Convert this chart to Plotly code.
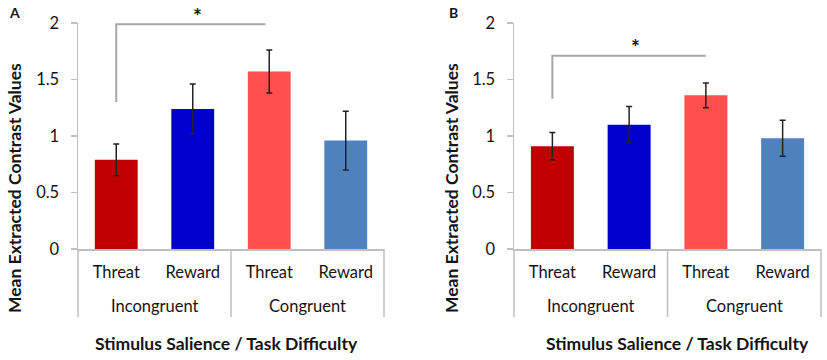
import plotly.graph_objects as go

# ---- data ----
conditions = ["Threat", "Reward", "Threat", "Reward"]
groups = ["Incongruent", "Congruent"]
group_centers = [0.5, 2.5]
bar_colors = ["#C00000", "#0000CC", "#FF4F4F", "#4F81BD"]

values_a = [0.79, 1.24, 1.57, 0.96]
errors_a = [0.14, 0.22, 0.19, 0.26]
values_b = [0.91, 1.10, 1.36, 0.98]
errors_b = [0.12, 0.16, 0.11, 0.16]

bracket_a_x = [0, 0, 1.95]
bracket_a_y = [1.30, 1.99, 1.99]
star_a = (1.06, 2.07)
bracket_b_x = [0, 0, 2.0]
bracket_b_y = [1.33, 1.71, 1.71]
star_b = (1.08, 1.79)

y_ticks = [0, 0.5, 1, 1.5, 2]
y_ticktext = ["0", "0.5", "1", "1.5", "2"]

W, H = 827, 360
FONT = "Lato"
TXT = "#141414"
GRID = "#bfbfbf"
BRK = "#a6a6a6"
Y0_PX, Y1_PX = 249, 23          # pixel rows of y=0 and y=2

x_pos = list(range(len(conditions)))

fig = go.Figure()

panels = [
    ("x", "y", values_a, errors_a, bracket_a_x, bracket_a_y),
    ("x2", "y2", values_b, errors_b, bracket_b_x, bracket_b_y),
]

for xa, ya, vals, errs, bx, by in panels:
    fig.add_trace(go.Bar(
        x=x_pos, y=vals, xaxis=xa, yaxis=ya,
        marker=dict(color=bar_colors, line=dict(width=0)),
        width=0.56,
        error_y=dict(type="data", array=errs, visible=True,
                     color="#222222", thickness=1.5, width=3),
        showlegend=False, hoverinfo="skip",
    ))
    fig.add_trace(go.Scatter(
        x=bx, y=by, xaxis=xa, yaxis=ya, mode="lines",
        line=dict(color=BRK, width=2), showlegend=False, hoverinfo="skip",
        cliponaxis=False,
    ))

dom_a = [78 / W, 384 / W]
dom_b = [514 / W, 821 / W]
ydom = [(H - Y0_PX) / H, (H - Y1_PX) / H]

axis_common_x = dict(
    range=[-0.5, 3.5], tickvals=x_pos, ticktext=conditions,
    showline=True, linecolor=GRID, linewidth=1.5, ticks="",
    tickfont=dict(family=FONT, size=16.5, color=TXT), showgrid=False,
    zeroline=False, ticklabelstandoff=8, fixedrange=True, automargin=False,
)
axis_common_y = dict(
    range=[0, 2], tickvals=y_ticks, ticktext=y_ticktext,
    showline=True, linecolor=GRID, linewidth=1.5, ticks="outside",
    ticklen=6, tickcolor=GRID, tickwidth=1.5,
    tickfont=dict(family=FONT, size=16.5, color=TXT), showgrid=False,
    zeroline=False, ticklabelstandoff=8, fixedrange=True, automargin=False,
)

fig.update_layout(
    width=W, height=H,
    margin=dict(l=0, r=0, t=0, b=0, pad=0, autoexpand=False),
    plot_bgcolor="white", paper_bgcolor="white",
    xaxis=dict(domain=dom_a, anchor="y", **axis_common_x),
    yaxis=dict(domain=ydom, anchor="x", **axis_common_y),
    xaxis2=dict(domain=dom_b, anchor="y2", **axis_common_x),
    yaxis2=dict(domain=ydom, anchor="x2", **axis_common_y),
    bargap=0.44,
)


def y_to_paper(v):
    # paper coordinate of a data value on the shared y scale (range 0..2)
    return ydom[0] + (ydom[1] - ydom[0]) * v / 2.0


annotations = []
shapes = []
for xa, ya, st, ytx, xtx, letter_x, letter in [
    ("x", "y", star_a, 15, 226, 14, "A"),
    ("x2", "y2", star_b, 452, 677, 453, "B"),
]:
    for g, c in zip(groups, group_centers):
        annotations.append(dict(
            x=c, xref=xa, y=(H - 306) / H, yref="paper", text=g,
            showarrow=False, font=dict(family=FONT, size=16.5, color=TXT),
            xanchor="center", yanchor="middle"))
    for d in [0, 0.5, 1]:
        shapes.append(dict(
            type="line", xref=f"{xa} domain", yref="paper",
            x0=d, x1=d, y0=(H - 317) / H, y1=ydom[0],
            line=dict(color=GRID, width=1.5)))
    annotations.append(dict(
        x=st[0], xref=xa, y=y_to_paper(st[1]), yref="paper", text="<b>*</b>",
        showarrow=False, font=dict(family=FONT, size=21, color=TXT),
        xanchor="center", yanchor="middle"))
    annotations.append(dict(
        x=ytx / W, xref="paper", y=(H - 188) / H, yref="paper",
        text="<b>Mean Extracted Contrast Values</b>", textangle=-90,
        showarrow=False, font=dict(family=FONT, size=17.5, color=TXT),
        xanchor="center", yanchor="middle"))
    annotations.append(dict(
        x=xtx / W, xref="paper", y=(H - 343) / H, yref="paper",
        text="<b>Stimulus Salience / Task Difficulty</b>",
        showarrow=False, font=dict(family=FONT, size=17.5, color=TXT),
        xanchor="center", yanchor="middle"))
    annotations.append(dict(
        x=letter_x / W, xref="paper", y=(H - 12.5) / H, yref="paper",
        text=f"<b>{letter}</b>", showarrow=False,
        font=dict(family=FONT, size=14, color=TXT),
        xanchor="center", yanchor="middle"))

fig.update_layout(annotations=annotations, shapes=shapes)
fig.write_html(
    "out.html",
    config={"displayModeBar": False, "staticPlot": True},
    post_script="document.body.style.margin='0';document.body.style.padding='0';",
)
